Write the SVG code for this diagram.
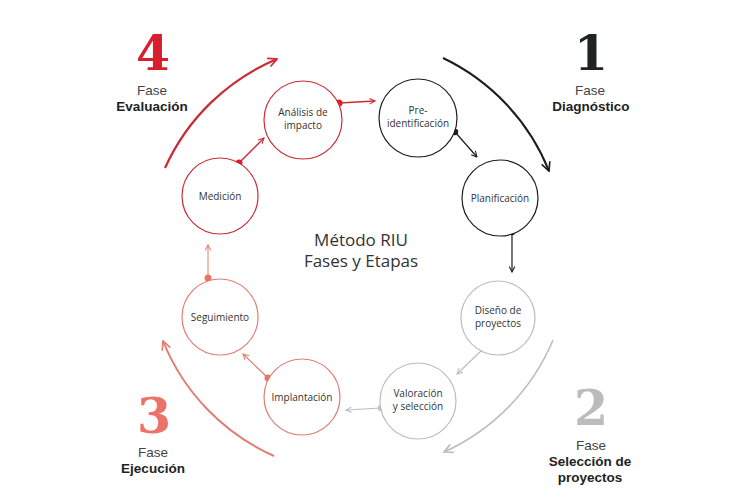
<svg xmlns="http://www.w3.org/2000/svg" width="750" height="500" viewBox="0 0 750 500">
<style>
.node{fill:#fff;stroke-width:1.2}
.lbl{font-family:"Open Sans","Liberation Sans",sans-serif;font-size:10px;fill:#333;text-anchor:middle}
.fase{font-family:"Liberation Sans",Arial,sans-serif;font-size:13.5px;fill:#444;text-anchor:middle}
.fb{font-family:"Liberation Sans",Arial,sans-serif;font-size:13.5px;font-weight:bold;fill:#222;text-anchor:middle}
.num{font-family:"DejaVu Serif","Liberation Serif",serif;font-size:49px;font-weight:bold;text-anchor:middle}
.title{font-family:"Open Sans","Liberation Sans",sans-serif;font-size:17px;fill:#333;text-anchor:middle}
.red{stroke:#cc2a36}
.blk{stroke:#1c1c1c}
.gry{stroke:#bdbdbd}
.sal{stroke:#e27d74}
.c{fill:none}
</style>
<defs>
<marker id="mR" viewBox="0 0 10 10" refX="9" refY="5" markerWidth="7" markerHeight="7" orient="auto" markerUnits="userSpaceOnUse"><path d="M1,1 L9,5 L1,9" fill="none" stroke="#cc2a36" stroke-width="1.5"/></marker>
<marker id="mK" viewBox="0 0 10 10" refX="9" refY="5" markerWidth="7" markerHeight="7" orient="auto" markerUnits="userSpaceOnUse"><path d="M1,1 L9,5 L1,9" fill="none" stroke="#1c1c1c" stroke-width="1.5"/></marker>
<marker id="mG" viewBox="0 0 10 10" refX="9" refY="5" markerWidth="7" markerHeight="7" orient="auto" markerUnits="userSpaceOnUse"><path d="M1,1 L9,5 L1,9" fill="none" stroke="#bdbdbd" stroke-width="1.5"/></marker>
<marker id="mS" viewBox="0 0 10 10" refX="9" refY="5" markerWidth="7" markerHeight="7" orient="auto" markerUnits="userSpaceOnUse"><path d="M1,1 L9,5 L1,9" fill="none" stroke="#e27d74" stroke-width="1.5"/></marker>
<marker id="bR" viewBox="0 0 10 10" refX="9" refY="5" markerWidth="11" markerHeight="11" orient="auto" markerUnits="userSpaceOnUse"><path d="M1,1 L9,5 L1,9" fill="none" stroke="#cc2a36" stroke-width="1.5"/></marker>
<marker id="bK" viewBox="0 0 10 10" refX="9" refY="5" markerWidth="11" markerHeight="11" orient="auto" markerUnits="userSpaceOnUse"><path d="M1,1 L9,5 L1,9" fill="none" stroke="#1c1c1c" stroke-width="1.5"/></marker>
<marker id="bG" viewBox="0 0 10 10" refX="9" refY="5" markerWidth="11" markerHeight="11" orient="auto" markerUnits="userSpaceOnUse"><path d="M1,1 L9,5 L1,9" fill="none" stroke="#bdbdbd" stroke-width="1.5"/></marker>
<marker id="bS" viewBox="0 0 10 10" refX="9" refY="5" markerWidth="11" markerHeight="11" orient="auto" markerUnits="userSpaceOnUse"><path d="M1,1 L9,5 L1,9" fill="none" stroke="#e27d74" stroke-width="1.5"/></marker>
</defs>
<rect width="750" height="500" fill="#fff"/>

<g id="phases">
<g id="fase4"><text class="num" x="153" y="70" fill="#d8202c">4</text><text class="fase" x="152" y="95">Fase</text><text class="fb" x="152" y="110.5">Evaluación</text></g>
<g id="fase1"><text class="num" x="591" y="70" fill="#1f2322">1</text><text class="fase" x="590" y="95">Fase</text><text class="fb" x="591" y="110.5">Diagnóstico</text></g>
<g id="fase2"><text class="num" x="591" y="425" fill="#bcbcbc">2</text><text class="fase" x="591" y="450">Fase</text><text class="fb" x="590" y="466">Selección de</text><text class="fb" x="590" y="482">proyectos</text></g>
<g id="fase3"><text class="num" x="154" y="433" fill="#ec7369">3</text><text class="fase" x="153" y="457">Fase</text><text class="fb" x="153" y="473">Ejecución</text></g>
</g>

<g id="title"><text class="title" x="361" y="246">Método RIU</text><text class="title" x="361" y="267">Fases y Etapas</text></g>

<g id="connectors">
<path class="c red" stroke-width="2.2" d="M165,168 A213,213 0 0 1 277,59" marker-end="url(#bR)"/>
<path class="c blk" stroke-width="2" d="M443,58 A213,213 0 0 1 549,171" marker-end="url(#bK)"/>
<path class="c gry" stroke-width="1.6" d="M553,340 A213,213 0 0 1 444,452" marker-end="url(#bG)"/>
<path class="c sal" stroke-width="2" d="M274,456 A213,213 0 0 1 163,341" marker-end="url(#bS)"/>

<path class="c red" stroke-width="1.4" d="M239,163 L264,138" marker-end="url(#mR)"/>
<path class="c red" stroke-width="1.4" d="M339,103 L375,101" marker-end="url(#mR)"/>
<path class="c blk" stroke-width="1.2" d="M455,132 L477,157" marker-end="url(#mK)"/>
<path class="c blk" stroke-width="1.2" d="M512,232 L512,272" marker-end="url(#mK)"/>
<path class="c gry" stroke-width="1.2" d="M483,349 L457,374" marker-end="url(#mG)"/>
<path class="c gry" stroke-width="1.2" d="M381,408 L346,410" marker-end="url(#mG)"/>
<path class="c sal" stroke-width="1.2" d="M268,378 L243,354" marker-end="url(#mS)"/>
<path class="c sal" stroke-width="1" d="M208,278 L208,245" marker-end="url(#mS)"/>
<circle cx="239" cy="163" r="3.5" fill="#d8202c"/>
<circle cx="339" cy="103" r="3.5" fill="#d8202c"/>
<circle cx="455" cy="132" r="3.2" fill="#1c1c1c"/>
<circle cx="512" cy="232" r="3.2" fill="#1c1c1c"/>
<circle cx="483" cy="349" r="3.3" fill="#c4c4c4"/>
<circle cx="381" cy="408" r="3.3" fill="#c4c4c4"/>
<circle cx="268" cy="378" r="3.5" fill="#ec7369"/>
<circle cx="208" cy="278" r="3.5" fill="#ec7369"/>
</g>

<g id="analisis"><circle class="node red" cx="303" cy="120" r="39"/><text class="lbl" x="303" y="116">Análisis de</text><text class="lbl" x="303" y="129">impacto</text></g>
<g id="preidentificacion"><circle class="node blk" cx="418" cy="118" r="39"/><text class="lbl" x="418" y="114">Pre-</text><text class="lbl" x="418" y="127">identificación</text></g>
<g id="planificacion"><circle class="node blk" cx="500" cy="198" r="38"/><text class="lbl" x="500" y="202">Planificación</text></g>
<g id="diseno"><circle class="node gry" cx="498" cy="318" r="37"/><text class="lbl" x="498" y="314">Diseño de</text><text class="lbl" x="498" y="327">proyectos</text></g>
<g id="valoracion"><circle class="node gry" cx="418" cy="401" r="38"/><text class="lbl" x="418" y="397">Valoración</text><text class="lbl" x="418" y="410">y selección</text></g>
<g id="implantacion"><circle class="node sal" cx="302" cy="397" r="38"/><text class="lbl" x="302" y="401">Implantación</text></g>
<g id="seguimiento"><circle class="node sal" cx="220" cy="317" r="38"/><text class="lbl" x="220" y="321">Seguimiento</text></g>
<g id="medicion"><circle class="node red" cx="220" cy="196" r="38"/><text class="lbl" x="220" y="200">Medición</text></g>
</svg>
